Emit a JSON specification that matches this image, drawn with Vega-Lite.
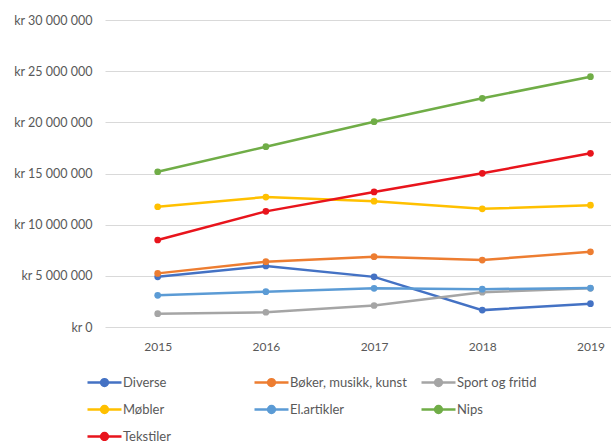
{
  "$schema": "https://vega.github.io/schema/vega-lite/v6.json",
  "autosize": {"type": "none"},
  "padding": {"left": 105, "top": 20, "right": 0, "bottom": 114},
  "width": 506,
  "height": 307,
  "background": "white",
  "config": {"font": "Lato", "view": {"stroke": null}},
  "data": {
    "values": [
      {"year": 2015, "series": "Diverse", "value": 4900000},
      {"year": 2016, "series": "Diverse", "value": 5960000},
      {"year": 2017, "series": "Diverse", "value": 4900000},
      {"year": 2018, "series": "Diverse", "value": 1650000},
      {"year": 2019, "series": "Diverse", "value": 2280000},
      {"year": 2015, "series": "Bøker, musikk, kunst", "value": 5240000},
      {"year": 2016, "series": "Bøker, musikk, kunst", "value": 6380000},
      {"year": 2017, "series": "Bøker, musikk, kunst", "value": 6870000},
      {"year": 2018, "series": "Bøker, musikk, kunst", "value": 6540000},
      {"year": 2019, "series": "Bøker, musikk, kunst", "value": 7350000},
      {"year": 2015, "series": "Sport og fritid", "value": 1300000},
      {"year": 2016, "series": "Sport og fritid", "value": 1440000},
      {"year": 2017, "series": "Sport og fritid", "value": 2100000},
      {"year": 2018, "series": "Sport og fritid", "value": 3400000},
      {"year": 2019, "series": "Sport og fritid", "value": 3780000},
      {"year": 2015, "series": "Møbler", "value": 11750000},
      {"year": 2016, "series": "Møbler", "value": 12700000},
      {"year": 2017, "series": "Møbler", "value": 12300000},
      {"year": 2018, "series": "Møbler", "value": 11550000},
      {"year": 2019, "series": "Møbler", "value": 11900000},
      {"year": 2015, "series": "El.artikler", "value": 3100000},
      {"year": 2016, "series": "El.artikler", "value": 3450000},
      {"year": 2017, "series": "El.artikler", "value": 3780000},
      {"year": 2018, "series": "El.artikler", "value": 3700000},
      {"year": 2019, "series": "El.artikler", "value": 3800000},
      {"year": 2015, "series": "Nips", "value": 15170000},
      {"year": 2016, "series": "Nips", "value": 17620000},
      {"year": 2017, "series": "Nips", "value": 20060000},
      {"year": 2018, "series": "Nips", "value": 22350000},
      {"year": 2019, "series": "Nips", "value": 24460000},
      {"year": 2015, "series": "Tekstiler", "value": 8500000},
      {"year": 2016, "series": "Tekstiler", "value": 11300000},
      {"year": 2017, "series": "Tekstiler", "value": 13200000},
      {"year": 2018, "series": "Tekstiler", "value": 15020000},
      {"year": 2019, "series": "Tekstiler", "value": 16970000}
    ]
  },
  "mark": {"type": "line", "strokeWidth": 2.5, "point": {"filled": true, "size": 45, "opacity": 1}},
  "encoding": {
    "x": {
      "field": "year",
      "type": "quantitative",
      "scale": {"domain": [2014.513, 2019.19], "nice": false, "zero": false},
      "axis": {
        "values": [2015, 2016, 2017, 2018, 2019],
        "format": "d",
        "title": null,
        "grid": false,
        "ticks": false,
        "domain": false,
        "labelFontSize": 12,
        "labelColor": "#595959",
        "labelPadding": 14
      }
    },
    "y": {
      "field": "value",
      "type": "quantitative",
      "scale": {"domain": [0, 30000000], "nice": false},
      "axis": {
        "values": [0, 5000000, 10000000, 15000000, 20000000, 25000000, 30000000],
        "labelExpr": "'kr ' + replace(format(datum.value, ','), regexp(',', 'g'), ' ')",
        "title": null,
        "ticks": false,
        "domain": false,
        "gridColor": "#d9d9d9",
        "gridWidth": 1,
        "labelFontSize": 12.5,
        "labelColor": "#595959",
        "labelPadding": 13
      }
    },
    "color": {
      "field": "series",
      "type": "nominal",
      "sort": null,
      "scale": {
        "domain": ["Diverse", "Bøker, musikk, kunst", "Sport og fritid", "Møbler", "El.artikler", "Nips", "Tekstiler"],
        "range": ["#4472C4", "#ED7D31", "#A5A5A5", "#FFC000", "#5B9BD5", "#70AD47", "#E8141C"]
      },
      "legend": {
        "title": null,
        "orient": "none",
        "direction": "horizontal",
        "legendX": -19,
        "legendY": 344,
        "columns": 3,
        "gridAlign": "all",
        "columnPadding": 9,
        "rowPadding": -6,
        "padding": 0,
        "symbolType": "M-1,0L1,0M-0.2,0A0.2,0.2,0,1,0,0.2,0A0.2,0.2,0,1,0,-0.2,0Z",
        "symbolSize": 1156,
        "symbolStrokeWidth": 2.5,
        "labelFontSize": 13,
        "labelColor": "#595959",
        "labelOffset": 0,
        "labelLimit": 300,
        "encode": {
          "symbols": {"update": {"fill": {"scale": "color", "field": "value"}, "stroke": {"scale": "color", "field": "value"}, "opacity": {"value": 1}}}
        }
      }
    }
  }
}
